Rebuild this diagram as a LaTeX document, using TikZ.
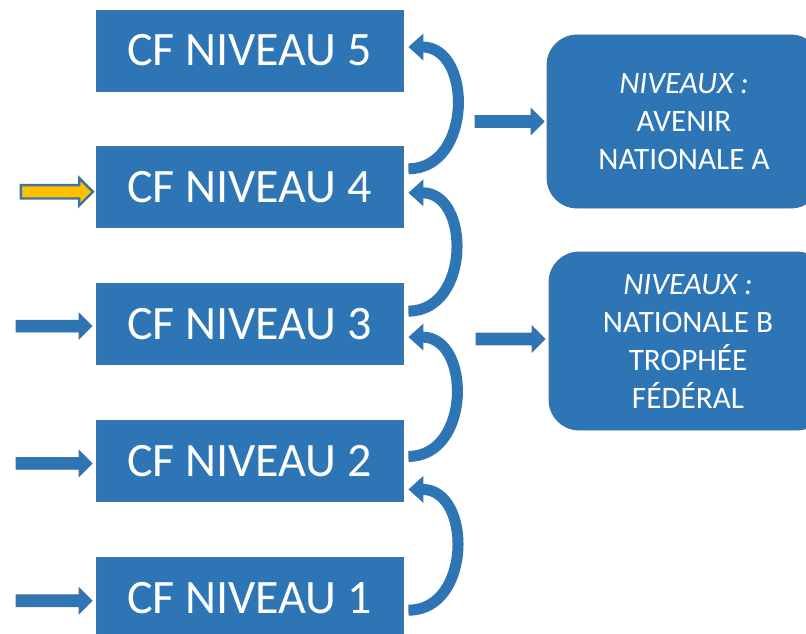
\documentclass[tikz,border=0pt]{standalone}
\usepackage{fontspec}
\setmainfont{Carlito}
\usetikzlibrary{positioning,shapes.arrows,arrows.meta}
\definecolor{cfblue}{RGB}{46,117,182}
\definecolor{cfedge}{RGB}{65,113,156}
\definecolor{cfgold}{RGB}{255,192,0}

\begin{document}
\begin{tikzpicture}[x=0.5pt,y=0.5pt,node distance=27.5pt,
    level/.style={rectangle,draw=cfedge,fill=cfblue,text=white,minimum width=153.5pt,
      minimum height=40.5pt,font=\fontsize{24}{28}\selectfont},
    info/.style={rectangle,rounded corners=15pt,draw=cfedge,fill=cfblue,text=white,
      align=center,font=\fontsize{15.6}{19}\selectfont},
    entry/.style={single arrow,draw=cfedge,fill=cfblue,inner sep=2.75pt,minimum width=12.5pt,
      single arrow head extend=3.5pt,minimum height=38pt},
    climb/.style={draw=cfblue,line width=5.5pt,
      -{Triangle[width=13pt,length=7.5pt,fill=cfblue]},out=0,in=0,looseness=1.35}]
   \useasboundingbox (0,0) rectangle (806,633);
   % levels
   \node[level] (n_5) at (249.5,582.5) {CF NIVEAU 5};
   \node[level] (n_4) [below=of n_5] {CF NIVEAU 4};
   \node[level] (n_3) [below=of n_4] {CF NIVEAU 3};
   \node[level] (n_2) [below=of n_3] {CF NIVEAU 2};
   \node[level] (n_1) [below=of n_2] {CF NIVEAU 1};
   % entries
   \node[entry,fill=cfgold,line width=1.2pt,minimum height=36pt] (in_4)
      [left=0.5pt of n_4,yshift=-2.25pt] {};
   \node[entry] (in_3) [left=1.5pt of n_3,yshift=-1pt] {};
   \node[entry] (in_2) [left=1.5pt of n_2,yshift=-1.25pt] {};
   \node[entry] (in_1) [left=1.5pt of n_1,yshift=-1.5pt] {};
   % niveaux
   \node[info,minimum width=137pt,minimum height=86.5pt] (box_a) at (684,511.5)
      {\textit{NIVEAUX :}\\AVENIR\\NATIONALE A};
   \node[info,minimum width=139pt,minimum height=89pt] (box_b) at (688,292)
      {\textit{NIVEAUX :}\\NATIONALE B\\TROPHÉE\\FÉDÉRAL};
   \node[entry,minimum height=34.5pt] (to_a) [left=1pt of box_a] {};
   \node[entry,minimum height=34.5pt] (to_b) [left=1.5pt of box_b,yshift=1pt] {};
   % passages
   \path
    ([xshift=2.5pt,yshift=9.25pt]n_4.east) edge[climb] ([xshift=2.5pt,yshift=1.75pt]n_5.east)
    ([xshift=2.5pt,yshift=6.5pt]n_3.east)  edge[climb] ([xshift=2.5pt,yshift=-2.75pt]n_4.east)
    ([xshift=2.5pt,yshift=2.25pt]n_2.east) edge[climb] ([xshift=2.5pt,yshift=-6.5pt]n_3.east)
    ([xshift=2.5pt,yshift=-6.25pt]n_1.east) edge[climb] ([xshift=2.5pt,yshift=-14.25pt]n_2.east);
\end{tikzpicture}
\end{document}
